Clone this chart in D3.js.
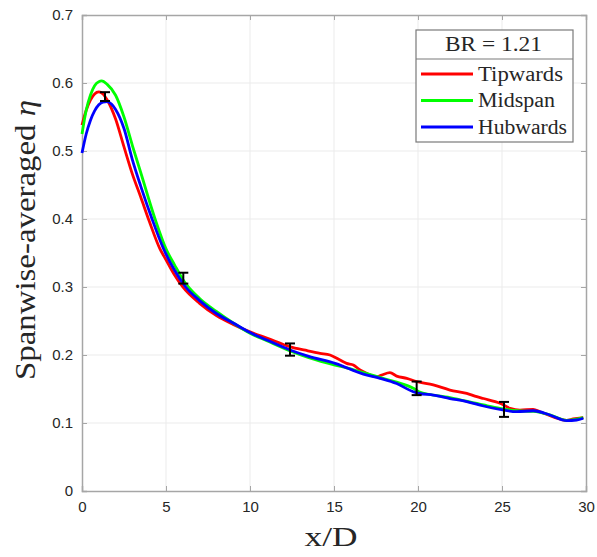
<!DOCTYPE html>
<html><head><meta charset="utf-8">
<script src="https://cdn.jsdelivr.net/npm/d3@7"></script>
<style>body{margin:0;background:#fff}svg{display:block}</style>
</head><body>
<svg id="chart" width="597" height="557"></svg>
<script>
const xTicks = [0,5,10,15,20,25,30];
const yTicks = [0,0.1,0.2,0.3,0.4,0.5,0.6,0.7];

const tipX = [0,0.25,0.5,0.75,1.0,1.25,1.5,2.0,2.5,3.0,3.5,4.0,4.64,5.0,5.5,6.0,7,8,9,10,11,12.4,13.3,14.17,14.76,15.36,15.75,16.15,16.55,16.94,17.54,17.84,18.33,18.73,19.33,19.92,20.91,21.9,22.9,23.5,23.9,24.88,25.48,26.07,26.86,27.26,28.05,28.85,29.24,29.84];
const tipY = [0.538,0.560,0.575,0.584,0.587,0.584,0.575,0.547,0.506,0.466,0.432,0.397,0.356,0.340,0.318,0.300,0.276,0.258,0.245,0.234,0.225,0.212,0.207,0.2025,0.200,0.1926,0.1877,0.1853,0.178,0.173,0.168,0.1706,0.174,0.169,0.1657,0.161,0.156,0.1485,0.1436,0.1387,0.136,0.129,0.1216,0.119,0.120,0.1166,0.109,0.104,0.1059,0.108];

const midX = [0,0.25,0.5,0.75,1.0,1.17,1.5,2.0,2.5,3.0,3.5,4.35,5.0,5.5,6.0,7,8,9,10,11,12.4,13.5,15.06,15.75,16.75,17.74,18.73,19.72,20.06,21.9,23.9,24.88,25.87,26.86,27.85,28.85,29.84];
const midY = [0.525,0.560,0.582,0.596,0.602,0.603,0.598,0.582,0.550,0.508,0.468,0.400,0.356,0.333,0.311,0.283,0.264,0.247,0.232,0.221,0.206,0.196,0.185,0.181,0.174,0.167,0.160,0.151,0.146,0.1375,0.1265,0.1216,0.118,0.117,0.112,0.104,0.108];

const hubX = [0,0.25,0.5,0.75,1.0,1.25,1.5,1.75,2.0,2.5,3.0,3.5,4.17,4.84,5.5,6.17,7,8,9,10,11,12.38,13.5,15.06,16.75,17.74,18.73,19.72,20.06,20.91,21.9,22.9,23.9,24.88,25.87,26.86,27.85,28.85,29.44,29.84];
const hubY = [0.497,0.525,0.545,0.559,0.568,0.572,0.5725,0.569,0.561,0.533,0.487,0.448,0.400,0.357,0.325,0.300,0.280,0.261,0.247,0.233,0.222,0.2074,0.198,0.1877,0.172,0.1657,0.158,0.146,0.1436,0.141,0.136,0.1314,0.125,0.120,0.1166,0.118,0.1118,0.1034,0.1044,0.107];

const errX = [1.37,6.03,12.38,19.92,25.12];
const errY = [0.580,0.313,0.208,0.151,0.120];
const errE = [0.0065,0.008,0.009,0.010,0.011];

const seriesNames = ["Tipwards","Midspan","Hubwards"];
const seriesColors = ["#ff0000","#00ff00","#0000ff"];
const legendTitle = "BR = 1.21";

const svg = d3.select("#chart");
const L = 82, R = 586, T = 15, B = 491;
const x = d3.scaleLinear().domain([0,30]).range([L,R]);
const y = d3.scaleLinear().domain([0,0.7]).range([B,T]);

// grid
const g = svg.append("g");
g.selectAll(".gx").data(xTicks.slice(1,-1)).enter().append("line")
  .attr("x1",d=>x(d)).attr("x2",d=>x(d)).attr("y1",T).attr("y2",B)
  .attr("stroke","#ebebeb").attr("stroke-width",1);
g.selectAll(".gy").data(yTicks.slice(1,-1)).enter().append("line")
  .attr("y1",d=>y(d)).attr("y2",d=>y(d)).attr("x1",L).attr("x2",R)
  .attr("stroke","#ebebeb").attr("stroke-width",1);

// axes
const axC = "#a6a6a6";
const xa = svg.append("g").attr("transform",`translate(0,${B})`)
  .call(d3.axisBottom(x).tickValues(xTicks).tickSize(-5).tickPadding(10).tickFormat(d3.format("d")));
const ya = svg.append("g").attr("transform",`translate(${L},0)`)
  .call(d3.axisLeft(y).tickValues(yTicks).tickSize(-5).tickPadding(9).tickFormat(d=>d===0?"0":d3.format(".1f")(d)));
const xt = svg.append("g").attr("transform",`translate(0,${T})`)
  .call(d3.axisTop(x).tickValues(xTicks).tickSize(-5).tickFormat(""));
const yr = svg.append("g").attr("transform",`translate(${R},0)`)
  .call(d3.axisRight(y).tickValues(yTicks).tickSize(-5).tickFormat(""));
[xa,ya,xt,yr].forEach(a=>{
  a.selectAll("path").attr("stroke",axC).attr("stroke-width",1.5);
  a.selectAll("line").attr("stroke",axC);
  a.selectAll("text").attr("fill","#262626").style("font-family","'Liberation Sans', Arial, sans-serif").style("font-size","15px");
});

// lines
const line = d3.line().x(d=>x(d[0])).y(d=>y(d[1])).curve(d3.curveMonotoneX);
const allX = [tipX, midX, hubX], allY = [tipY, midY, hubY];
allX.forEach((xs,i)=>{
  const pts = xs.map((v,j)=>[v, allY[i][j]]);
  svg.append("path").datum(pts).attr("d",line)
    .attr("fill","none").attr("stroke",seriesColors[i]).attr("stroke-width",2.8)
    .attr("stroke-linejoin","round");
});

// error bars
const eb = svg.append("g").attr("stroke","#000").attr("stroke-width",2).attr("fill","none");
errX.forEach((xv,i)=>{
  const cx = x(xv), y1 = y(errY[i]-errE[i]), y2 = y(errY[i]+errE[i]);
  eb.append("line").attr("x1",cx).attr("x2",cx).attr("y1",y1).attr("y2",y2);
  eb.append("line").attr("x1",cx-5).attr("x2",cx+5).attr("y1",y1).attr("y2",y1);
  eb.append("line").attr("x1",cx-5).attr("x2",cx+5).attr("y1",y2).attr("y2",y2);
});

// axis labels
const serif = "'Liberation Serif', 'Times New Roman', serif";
svg.append("text").attr("x",331).attr("y",546).attr("text-anchor","middle")
  .attr("textLength",53).attr("lengthAdjust","spacingAndGlyphs")
  .style("font-family",serif).style("font-size","28px").attr("fill","#262626").text("x/D");
const yl = svg.append("text").attr("transform",`translate(35,240) rotate(-90)`)
  .attr("text-anchor","middle").attr("textLength",280).attr("lengthAdjust","spacingAndGlyphs")
  .style("font-family",serif).style("font-size","30px").attr("fill","#262626");
yl.append("tspan").text("Spanwise-averaged ");
yl.append("tspan").style("font-style","italic").text("η");

// legend
const lg = svg.append("g");
const lx0 = 416, lx1 = 573, ly0 = 30, ly1 = 142, ldiv = 59;
lg.append("rect").attr("x",lx0).attr("y",ly0).attr("width",lx1-lx0).attr("height",ly1-ly0)
  .attr("fill","#fff").attr("stroke","#7a7a7a").attr("stroke-width",1.2);
lg.append("line").attr("x1",lx0).attr("x2",lx1).attr("y1",ldiv).attr("y2",ldiv)
  .attr("stroke","#7a7a7a").attr("stroke-width",1.2);
lg.append("text").attr("x",493.5).attr("y",51).attr("text-anchor","middle")
  .attr("textLength",97).attr("lengthAdjust","spacingAndGlyphs")
  .style("font-family",serif).style("font-size","20px").attr("fill","#262626").text(legendTitle);
const entryW = [85,77,89];
seriesNames.forEach((n,i)=>{
  const yy = 74 + i*26.5;
  lg.append("line").attr("x1",421).attr("x2",473).attr("y1",yy).attr("y2",yy)
    .attr("stroke",seriesColors[i]).attr("stroke-width",2.8);
  lg.append("text").attr("x",478).attr("y",yy+6.5).style("font-family",serif)
    .attr("textLength",entryW[i]).attr("lengthAdjust","spacingAndGlyphs")
    .style("font-size","20px").attr("fill","#262626").text(n);
});
</script>
</body></html>
